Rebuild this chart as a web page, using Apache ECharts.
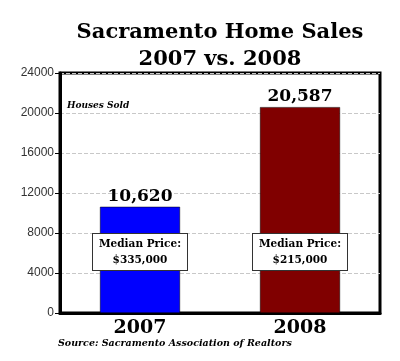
<!DOCTYPE html>
<html><head><meta charset="utf-8">
<script src="https://cdn.jsdelivr.net/npm/echarts@6/dist/echarts.min.js"></script>
<style>html,body{margin:0;padding:0;background:#fff}#c{width:400px;height:361px}</style>
</head><body><div id="c"></div>
<script>
var categories = ['2007', '2008'];
var housesSold = [10620, 20587];
var medianPrices = ['$335,000', '$215,000'];
var barColors = ['#0000ff', '#800000'];
var yTicks = [0, 4000, 8000, 12000, 16000, 20000, 24000];

var serif = '"DejaVu Serif", Georgia, serif';
var chart = echarts.init(document.getElementById('c'));
var boxY = 6100;
chart.setOption({
  animation: false,
  title: {
    text: 'Sacramento Home Sales\n2007 vs. 2008',
    left: 215, textAlign: 'center', top: 14,
    textStyle: { fontFamily: serif, fontWeight: 'bold', fontSize: 21, lineHeight: 27, color: '#000' }
  },
  grid: { left: 60, right: 20, top: 73, bottom: 48, show: true, borderColor: '#000', borderWidth: 3, backgroundColor: '#fff' },
  xAxis: {
    type: 'category', data: categories,
    axisLine: { show: true, lineStyle: { color: '#000', width: 3 } },
    axisTick: { show: false },
    axisLabel: { fontFamily: serif, fontWeight: 'bold', fontSize: 19, color: '#000', margin: 6 }
  },
  yAxis: {
    type: 'value', min: yTicks[0], max: yTicks[yTicks.length - 1], interval: 4000,
    axisLine: { show: true, lineStyle: { color: '#000', width: 3 } },
    axisTick: { show: true, length: 5, lineStyle: { color: '#000' } },
    axisLabel: { fontFamily: 'Arial, "Liberation Sans", sans-serif', fontSize: 12, color: '#333', margin: 6,
      formatter: function (v) { return String(v); } },
    splitLine: { show: true, lineStyle: { color: '#c8c8c8', type: 'dashed', width: 1 } }
  },
  graphic: [
    { type: 'text', left: 67, top: 101, style: { text: 'Houses Sold', font: 'italic bold 9px ' + serif, fill: '#000' } },
    { type: 'text', left: 58, top: 339, style: { text: 'Source: Sacramento Association of Realtors', font: 'italic bold 9.5px ' + serif, fill: '#000' } }
  ],
  series: [
    {
      type: 'bar', barWidth: '50%',
      data: housesSold.map(function (v, i) { return { value: v, itemStyle: { color: barColors[i] } }; }),
      itemStyle: { borderColor: '#000', borderWidth: 0.5 },
      label: {
        show: true, position: 'top', distance: 2,
        fontFamily: serif, fontWeight: 'bold', fontSize: 17, color: '#000',
        formatter: function (p) { return p.value.toLocaleString('en-US'); }
      },
      z: 2
    },
    {
      type: 'scatter', symbolSize: 0, z: 5,
      itemStyle: { opacity: 1 },
      data: medianPrices.map(function (p, i) { return [categories[i], boxY]; }),
      label: {
        show: true, position: 'inside', opacity: 1,
        formatter: function (p) { return 'Median Price:\n' + medianPrices[p.dataIndex]; },
        fontFamily: serif, fontWeight: 'bold', fontSize: 10.5, lineHeight: 16, color: '#000',
        backgroundColor: '#fff', borderColor: '#333', borderWidth: 1,
        padding: [2, 4, 2, 4], width: 86, align: 'center'
      }
    }
  ]
});
</script></body></html>
